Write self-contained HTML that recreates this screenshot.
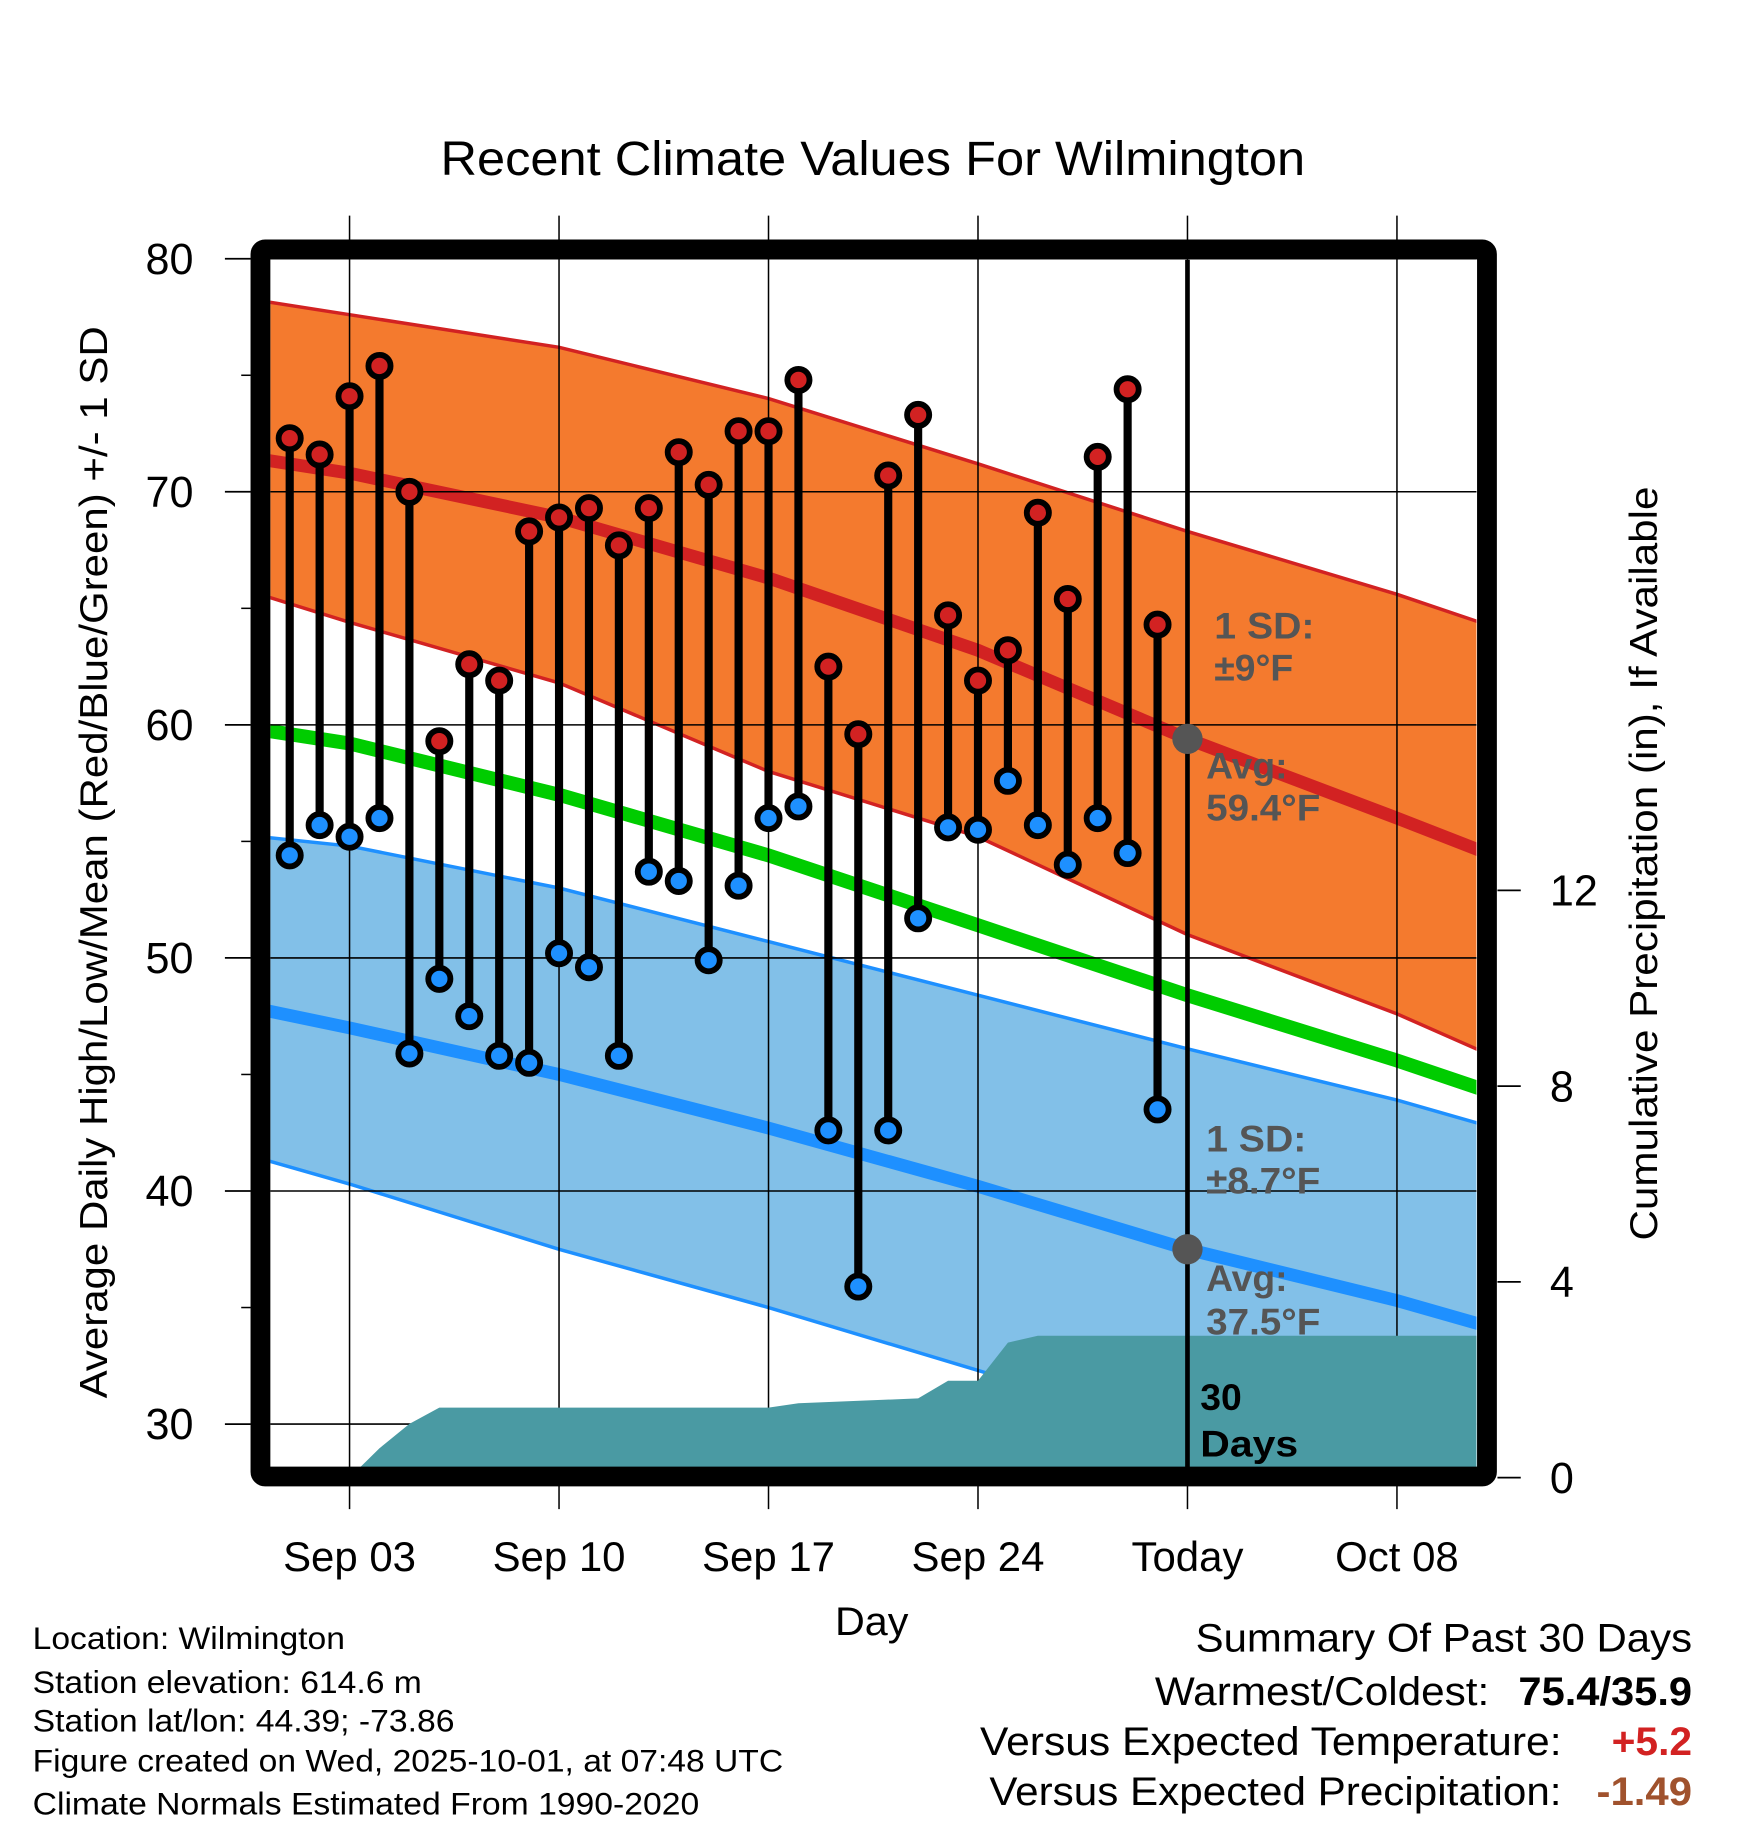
<!DOCTYPE html>
<html><head><meta charset="utf-8"><style>
html,body{margin:0;padding:0;background:#fff}
svg{display:block}
text{font-family:"Liberation Sans",sans-serif}
</style></head><body>
<svg id="chart" width="1748" height="1828" viewBox="0 0 1500 1568.6" xmlns="http://www.w3.org/2000/svg">
<defs><clipPath id="plotclip"><rect x="232" y="223" width="1035" height="1037"/></clipPath></defs>
<text x="749" y="150" font-size="41" text-anchor="middle" textLength="742" lengthAdjust="spacingAndGlyphs">Recent Climate Values For Wilmington</text>
<g id="bands" clip-path="url(#plotclip)"></g>
<g id="grid"></g>
<g id="precip" clip-path="url(#plotclip)"></g>
<g id="marks"></g>
<g id="ann" font-weight="bold" font-size="32" fill="#555">
<text x="1042" y="548" textLength="86" lengthAdjust="spacingAndGlyphs">1 SD:</text>
<text x="1042" y="584">±9°F</text>
<text x="1035" y="668">Avg:</text>
<text x="1035" y="704" textLength="98" lengthAdjust="spacingAndGlyphs">59.4°F</text>
<text x="1035" y="988" textLength="86" lengthAdjust="spacingAndGlyphs">1 SD:</text>
<text x="1035" y="1024" textLength="98" lengthAdjust="spacingAndGlyphs">±8.7°F</text>
<text x="1035" y="1108">Avg:</text>
<text x="1035" y="1145" textLength="98" lengthAdjust="spacingAndGlyphs">37.5°F</text>
<text x="1030" y="1210" fill="#000">30</text>
<text x="1030" y="1250" fill="#000" textLength="84" lengthAdjust="spacingAndGlyphs">Days</text>
</g>
<rect x="223.5" y="214" width="1052.5" height="1053" fill="none" stroke="#000" stroke-width="17" rx="4"/>
<text x="748" y="1403" font-size="34" text-anchor="middle" textLength="63" lengthAdjust="spacingAndGlyphs">Day</text>
<text transform="translate(92,740) rotate(-90)" font-size="33" text-anchor="middle" textLength="920" lengthAdjust="spacingAndGlyphs">Average Daily High/Low/Mean (Red/Blue/Green) +/- 1 SD</text>
<text transform="translate(1422,741) rotate(-90)" font-size="33" text-anchor="middle" textLength="647" lengthAdjust="spacingAndGlyphs">Cumulative Precipitation (in), If Available</text>
<g font-size="27">
<text x="28" y="1415" textLength="268" lengthAdjust="spacingAndGlyphs">Location: Wilmington</text>
<text x="28" y="1453" textLength="334" lengthAdjust="spacingAndGlyphs">Station elevation: 614.6 m</text>
<text x="28" y="1486" textLength="362" lengthAdjust="spacingAndGlyphs">Station lat/lon: 44.39; -73.86</text>
<text x="28" y="1520" textLength="644" lengthAdjust="spacingAndGlyphs">Figure created on Wed, 2025-10-01, at 07:48 UTC</text>
<text x="28" y="1557" textLength="572" lengthAdjust="spacingAndGlyphs">Climate Normals Estimated From 1990-2020</text>
</g>
<g font-size="34">
<text x="1026" y="1417" textLength="426" lengthAdjust="spacingAndGlyphs">Summary Of Past 30 Days</text>
<text x="991" y="1463" textLength="287" lengthAdjust="spacingAndGlyphs">Warmest/Coldest:</text>
<text x="1303" y="1463" font-weight="bold" textLength="149" lengthAdjust="spacingAndGlyphs">75.4/35.9</text>
<text x="841" y="1506" textLength="499" lengthAdjust="spacingAndGlyphs">Versus Expected Temperature:</text>
<text x="1383" y="1506" font-weight="bold" fill="#d22222" textLength="69" lengthAdjust="spacingAndGlyphs">+5.2</text>
<text x="849" y="1549" textLength="491" lengthAdjust="spacingAndGlyphs">Versus Expected Precipitation:</text>
<text x="1370" y="1549" font-weight="bold" fill="#a0522d" textLength="82" lengthAdjust="spacingAndGlyphs">-1.49</text>
</g>
</svg>
<script>
// normals (days relative to Sep 1 = 0)
const normDays = [-1, 2, 9, 16, 23, 30, 37, 40];
const highUpper = [78.2, 77.6, 76.2, 74.0, 71.2, 68.3, 65.6, 64.3];
const highMean = [71.4, 70.8, 68.9, 66.3, 63.2, 59.4, 56.0, 54.5];
const highLower = [65.6, 64.4, 61.8, 58.0, 55.2, 51.0, 47.6, 45.9];
const meanNorm = [59.8, 59.2, 57.0, 54.4, 51.4, 48.4, 45.6, 44.3];
const lowUpper = [55.2, 54.8, 53.0, 50.7, 48.4, 46.1, 43.9, 42.8];
const lowMean = [47.8, 47.0, 45.0, 42.7, 40.2, 37.5, 35.3, 34.2];
const lowLower = [41.4, 40.3, 37.5, 35.0, 32.3, 29.6, 27.0, 26.0];
// observed
const obsHigh = [72.3,71.6,74.1,75.4,70.0,59.3,62.6,61.9,68.3,68.9,69.3,67.7,69.3,71.7,70.3,72.6,72.6,74.8,62.5,59.6,70.7,73.3,64.7,61.9,63.2,69.1,65.4,71.5,74.4,64.3];
const obsLow = [54.4,55.7,55.2,56.0,45.9,49.1,47.5,45.8,45.5,50.2,49.6,45.8,53.7,53.3,49.9,53.1,56.0,56.5,42.6,35.9,42.6,51.7,55.6,55.5,57.6,55.7,54.0,56.0,54.5,43.5];
// cumulative precip
const precipDays = [2,3,4,5,16,17,21,22,23,24,25,41];
const precipVals = [0,0.6,1.1,1.43,1.43,1.52,1.62,1.98,1.98,2.76,2.9,2.9];
const yTicks = [30,40,50,60,70,80];
const y2Ticks = [0,4,8,12];
const xTickDays = [2,9,16,23,30,37];
const xTickLabels = ["Sep 03","Sep 10","Sep 17","Sep 24","Today","Oct 08"];
const todayDay = 30;

const NS="http://www.w3.org/2000/svg";
const X=d=>248.6+25.68*d;
const Y=v=>222+(80-v)*20;
const Y2=p=>1268-42*p;
function mk(tag,attrs,parent){const e=document.createElementNS(NS,tag);for(const k in attrs)e.setAttribute(k,attrs[k]);parent.appendChild(e);return e;}
const bands=document.getElementById('bands'),grid=document.getElementById('grid'),precip=document.getElementById('precip'),marks=document.getElementById('marks');
function pts(arr){return normDays.map((d,i)=>X(d)+','+Y(arr[i]));}
function band(up,lo,fill,edge,name){
  const p=mk('polygon',{points:pts(up).concat(pts(lo).reverse()).join(' '),fill:fill},bands);
  
  
  [up,lo].forEach(a=>{const l=mk('polyline',{points:pts(a).join(' '),fill:'none',stroke:edge,'stroke-width':3},bands);
    
    });
}
band(highUpper,highLower,'#f47a2e','#d22222','high-sd-band');
band(lowUpper,lowLower,'#82c0e8','#1e90ff','low-sd-band');
function line(arr,col,w,name){const l=mk('polyline',{points:pts(arr).join(' '),fill:'none',stroke:col,'stroke-width':w},bands);
  
  }
line(highMean,'#d22222',11,'normal-high-line');
line(meanNorm,'#00cc00',12,'normal-mean-line');
line(lowMean,'#1e90ff',11,'normal-low-line');
// grid and ticks
yTicks.forEach(v=>{
  const g=mk('line',{x1:232,x2:1267,y1:Y(v),y2:Y(v),stroke:'#000','stroke-width':1.3},grid);
  
  
  mk('line',{x1:193,x2:215,y1:Y(v),y2:Y(v),stroke:'#000','stroke-width':1.5},grid);
  const t=mk('text',{x:166,y:Y(v)+13,'font-size':37,'text-anchor':'end'},grid);t.textContent=v;
  
  
  if(v<80) mk('line',{x1:207,x2:215,y1:Y(v+5),y2:Y(v+5),stroke:'#000','stroke-width':1.3},grid);
});
y2Ticks.forEach(p=>{
  mk('line',{x1:1285,x2:1305,y1:Y2(p),y2:Y2(p),stroke:'#000','stroke-width':1.5},grid);
  const t=mk('text',{x:1330,y:Y2(p)+13,'font-size':37},grid);t.textContent=p;
  
  
});
xTickDays.forEach((d,i)=>{
  const g=mk('line',{x1:X(d),x2:X(d),y1:185,y2:1295,stroke:'#000','stroke-width':1.3},grid);
  
  
  const t=mk('text',{x:X(d),y:1348,'font-size':36,'text-anchor':'middle'},grid);t.textContent=xTickLabels[i];
  
  
});
// precip
let pp=precipDays.map((d,i)=>X(d)+','+Y2(precipVals[i]));
pp.push(X(precipDays[precipDays.length-1])+','+Y2(0));pp.push(X(precipDays[0])+','+Y2(0));
const pa=mk('polygon',{points:pp.join(' '),fill:'#4a9aa3'},precip);


// today line
const tl=mk('line',{x1:X(todayDay),x2:X(todayDay),y1:223,y2:1262,stroke:'#000','stroke-width':4},marks);


// today dots
[[highMean[5]],[lowMean[5]]].forEach(a=>{const c=mk('circle',{cx:X(todayDay),cy:Y(a[0]),r:13,fill:'#555'},marks);
  
  });
// daily bars
obsHigh.forEach((h,i)=>{
  const l=mk('line',{x1:X(i),x2:X(i),y1:Y(h),y2:Y(obsLow[i]),stroke:'#000','stroke-width':7},marks);
  
  
});
obsHigh.forEach((h,i)=>{
  const c1=mk('circle',{cx:X(i),cy:Y(h),r:9.5,fill:'#d22222',stroke:'#000','stroke-width':5},marks);
  
  
  const c2=mk('circle',{cx:X(i),cy:Y(obsLow[i]),r:9.5,fill:'#1e90ff',stroke:'#000','stroke-width':5},marks);
  
  
});
</script>
</body></html>
